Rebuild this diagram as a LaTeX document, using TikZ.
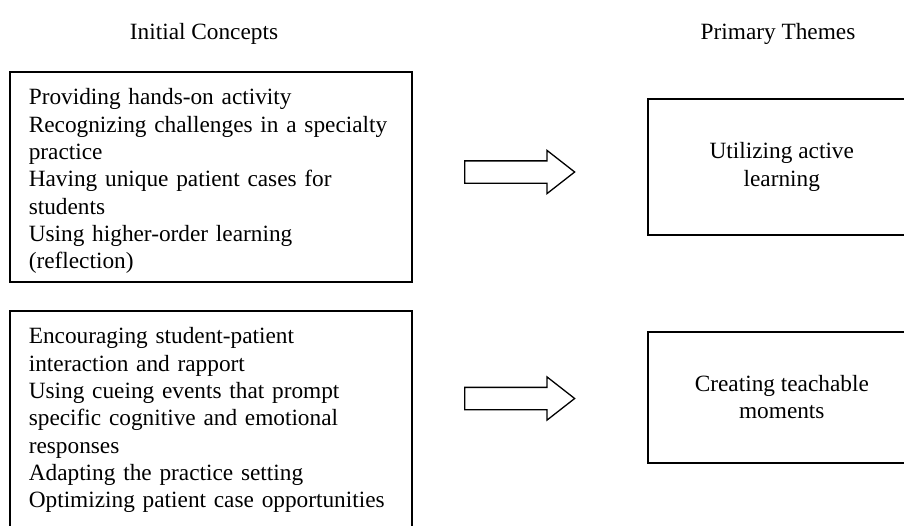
\documentclass[tikz,border=0pt]{standalone}
\usepackage{fontspec}
\setmainfont{Liberation Serif}
\usetikzlibrary{shapes.arrows}

\begin{document}
\begin{tikzpicture}[x=1pt, y=-1pt,
                    font=\fontsize{23.3}{27.3}\selectfont,
                    concept/.style= {draw, line width=1.6pt, anchor=north west,
                                     align=left, text width=364pt,
                                     inner xsep=19pt, inner ysep=0pt,
                                     text height=33pt},
                    theme/.style= {draw, line width=1.6pt, anchor=north west,
                                   align=center, minimum width=268pt},
                    fatarrow/.style= {shape=single arrow, draw, line width=1.3pt,
                                      anchor=tail, inner xsep=0pt, inner ysep=10.5pt,
                                      single arrow head extend=10.5pt,
                                      single arrow tip angle=76,
                                      minimum height=110pt}]

\clip (0,0) rectangle (904,525);

\node[anchor=base] (initial) at (204,39) {Initial Concepts};
\node[anchor=base] (primary) at (778,39) {Primary Themes};

\node[concept, text depth=177pt] (concepts1) at (9,71) {Providing hands-on activity\\
    Recognizing challenges in a specialty\\ practice\\
    Having unique patient cases for\\ students\\
    Using higher-order learning\\ (reflection)};
\node[concept, text depth=230pt] (concepts2) at (9,310) {Encouraging student-patient\\
    interaction and rapport\\
    Using cueing events that prompt\\ specific cognitive and emotional\\ responses\\
    Adapting the practice setting\\
    Optimizing patient case opportunities};

\node[theme, minimum height=136pt] (theme1) at (647,98) {Utilizing active\\ learning};
\node[theme, minimum height=131pt] (theme2) at (647,331) {Creating teachable\\ moments};

\foreach \i/\y in {1/172, 2/398.5}
    \node[fatarrow] (arrow\i) at (464,\y) {};
\end{tikzpicture}
\end{document}
